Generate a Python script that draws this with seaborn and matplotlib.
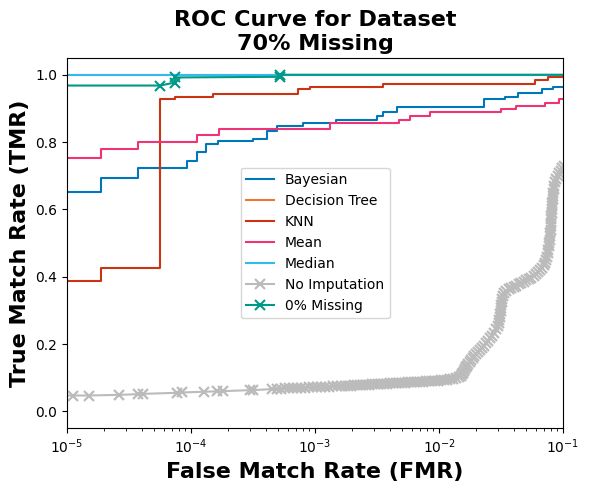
import matplotlib
matplotlib.use("Agg")
import matplotlib.pyplot as plt
import seaborn as sns
import pandas as pd

# Curvas ROC (FMR, TMR)
bayes_fmr = [0, 1.87e-5, 3.72e-5, 9.2e-5, 1.11e-4, 1.31e-4, 1.66e-4, 3.15e-4, 4.07e-4,
             4.94e-4, 7.96e-4, 1.48e-3, 3.15e-3, 3.56e-3, 4.56e-3, 2.32e-2, 3.41e-2,
             4.36e-2, 6.73e-2, 8.35e-2, 1.0]
bayes_tmr = [0.652, 0.693, 0.724, 0.743, 0.772, 0.794, 0.802, 0.810, 0.832,
             0.848, 0.858, 0.866, 0.878, 0.888, 0.904, 0.927, 0.935,
             0.945, 0.957, 0.965, 1.0]

tree_fmr = [0, 1.0]
tree_tmr = [1.0, 1.0]

knn_fmr = [0, 1.87e-5, 5.62e-5, 7.43e-5, 1.50e-4, 7.33e-4, 9.12e-4, 3.52e-3, 5.94e-2, 7.61e-2, 1.0]
knn_tmr = [0.388, 0.426, 0.928, 0.935, 0.944, 0.957, 0.965, 0.974, 0.984, 0.992, 1.0]

mean_fmr = [0, 1.87e-5, 3.72e-5, 1.11e-4, 1.67e-4, 1.32e-3, 4.78e-3, 5.84e-3, 8.46e-3,
            3.16e-2, 4.18e-2, 7.16e-2, 9.34e-2, 1.0]
mean_tmr = [0.754, 0.780, 0.801, 0.820, 0.840, 0.856, 0.866, 0.878, 0.888,
            0.898, 0.906, 0.915, 0.927, 1.0]

median_fmr = [0, 1.0]
median_tmr = [1.0, 1.0]

full_fmr = [0, 5.62e-5, 7.43e-5, 7.43e-5, 5.22e-4, 5.22e-4, 1.0]
full_tmr = [0.966, 0.968, 0.977, 0.992, 0.994, 1.0, 1.0]

noimp_fmr = [0, 1.12e-5, 1.51e-5, 2.62e-5, 3.76e-5, 4.12e-5, 7.67e-5, 8.41e-5, 1.26e-4,
             1.61e-4, 1.82e-4, 2.99e-4, 3.18e-4, 4.48e-4,
             4.94e-4, 5.32e-4, 5.73e-4, 6.17e-4, 6.65e-4, 7.16e-4, 7.71e-4, 8.31e-4,
             8.95e-4, 9.64e-4, 1.038e-3, 1.118e-3, 1.204e-3, 1.297e-3, 1.397e-3,
             1.505e-3, 1.621e-3, 1.746e-3,
             1.846e-3, 1.952e-3, 2.064e-3, 2.182e-3, 2.307e-3, 2.439e-3, 2.579e-3,
             2.727e-3, 2.883e-3, 3.048e-3, 3.223e-3, 3.408e-3, 3.603e-3, 3.809e-3,
             4.027e-3, 4.258e-3, 4.502e-3, 4.760e-3, 5.033e-3, 5.321e-3, 5.626e-3,
             5.948e-3, 6.289e-3, 6.649e-3, 7.030e-3, 7.433e-3, 7.859e-3, 8.309e-3,
             8.785e-3, 9.288e-3, 9.820e-3, 1.038e-2, 1.098e-2, 1.161e-2, 1.227e-2,
             1.297e-2, 1.372e-2, 1.450e-2,
             1.505e-2, 1.533e-2, 1.562e-2, 1.591e-2, 1.621e-2, 1.651e-2, 1.682e-2,
             1.714e-2, 1.762e-2, 1.812e-2, 1.863e-2, 1.916e-2, 1.989e-2, 2.064e-2,
             2.141e-2, 2.222e-2, 2.307e-2, 2.393e-2, 2.484e-2, 2.578e-2, 2.675e-2,
             2.776e-2, 2.882e-2, 2.963e-2, 3.019e-2, 3.059e-2, 3.087e-2, 3.110e-2,
             3.133e-2, 3.157e-2, 3.180e-2, 3.210e-2, 3.246e-2, 3.294e-2, 3.356e-2,
             3.470e-2, 3.635e-2, 3.807e-2, 3.988e-2, 4.178e-2, 4.376e-2, 4.585e-2,
             4.803e-2, 5.030e-2, 5.270e-2, 5.520e-2, 5.782e-2, 6.058e-2, 6.286e-2,
             6.523e-2, 6.769e-2, 6.960e-2, 7.158e-2,
             7.293e-2, 7.430e-2, 7.541e-2, 7.625e-2, 7.696e-2, 7.753e-2, 7.796e-2,
             7.840e-2, 7.884e-2, 7.928e-2, 7.957e-2, 8.001e-2, 8.031e-2, 8.061e-2,
             8.091e-2, 8.121e-2, 8.151e-2, 8.197e-2, 8.242e-2, 8.288e-2, 8.350e-2,
             8.428e-2, 8.522e-2, 8.650e-2, 8.813e-2, 9.027e-2, 9.283e-2, 9.545e-2,
             9.815e-2, 1.009e-1]
noimp_tmr = [0.045, 0.047, 0.047, 0.049, 0.051, 0.052, 0.055, 0.056, 0.058,
             0.059, 0.060, 0.063, 0.063, 0.066,
             0.067, 0.067, 0.068, 0.068, 0.069, 0.069, 0.070, 0.070,
             0.071, 0.071, 0.072, 0.072, 0.073, 0.073, 0.074,
             0.074, 0.075, 0.075,
             0.076, 0.076, 0.077, 0.077, 0.078, 0.078, 0.079,
             0.079, 0.080, 0.080, 0.081, 0.081, 0.082, 0.082,
             0.083, 0.083, 0.084, 0.084, 0.085, 0.085, 0.086,
             0.086, 0.087, 0.087, 0.088, 0.088, 0.089, 0.089,
             0.090, 0.090, 0.091, 0.092, 0.093, 0.094, 0.095,
             0.097, 0.099, 0.101,
             0.106, 0.110, 0.115, 0.120, 0.126, 0.131, 0.136,
             0.141, 0.146, 0.152, 0.157, 0.163, 0.169, 0.175,
             0.181, 0.188, 0.195, 0.202, 0.209, 0.217, 0.225,
             0.234, 0.244, 0.253, 0.262, 0.271, 0.280, 0.289,
             0.298, 0.307, 0.316, 0.325, 0.334, 0.343, 0.351,
             0.357, 0.363, 0.367, 0.370, 0.373, 0.377, 0.381,
             0.385, 0.389, 0.393, 0.397, 0.402, 0.408, 0.414,
             0.420, 0.427, 0.434, 0.441,
             0.450, 0.460, 0.470, 0.480, 0.490, 0.500, 0.510,
             0.520, 0.530, 0.540, 0.550, 0.560, 0.570, 0.580,
             0.590, 0.600, 0.610, 0.620, 0.630, 0.640, 0.650,
             0.660, 0.670, 0.680, 0.690, 0.699, 0.707, 0.715,
             0.722, 0.728]

# Paleta "vibrant" (Paul Tol)
colors = {
    "Bayesian": "#0077BB",
    "Decision Tree": "#EE7733",
    "KNN": "#CC3311",
    "Mean": "#EE3377",
    "Median": "#33BBEE",
    "No Imputation": "#BBBBBB",
    "0% Missing": "#009988",
}


def draw(ax, fmr, tmr, label, **kw):
    df = pd.DataFrame({"fmr": fmr, "tmr": tmr})
    sns.lineplot(data=df, x="fmr", y="tmr", ax=ax, label=label, color=colors[label],
                 estimator=None, sort=False, linewidth=1.5, **kw)


fig, ax = plt.subplots(figsize=(5.89, 4.91), dpi=100)
fig.subplots_adjust(left=0.114, right=0.956, top=0.882, bottom=0.128)

draw(ax, bayes_fmr, bayes_tmr, "Bayesian", drawstyle="steps-post")
draw(ax, tree_fmr, tree_tmr, "Decision Tree", drawstyle="steps-post")
draw(ax, knn_fmr, knn_tmr, "KNN", drawstyle="steps-post")
draw(ax, mean_fmr, mean_tmr, "Mean", drawstyle="steps-post")
draw(ax, median_fmr, median_tmr, "Median", drawstyle="steps-post")
draw(ax, noimp_fmr, noimp_tmr, "No Imputation", marker="x", markersize=7,
     markeredgewidth=1.6, markeredgecolor=colors["No Imputation"])
draw(ax, full_fmr, full_tmr, "0% Missing", marker="x", markersize=7,
     markeredgewidth=1.5, markeredgecolor=colors["0% Missing"])

ax.set_xscale("log", nonpositive="clip")
ax.set_xlim(1e-5, 1e-1)
ax.set_ylim(-0.05, 1.05)
ax.set_yticks([0.0, 0.2, 0.4, 0.6, 0.8, 1.0])

ax.set_xlabel("False Match Rate (FMR)", fontsize=16, fontweight="bold")
ax.set_ylabel("True Match Rate (TMR)", fontsize=16, fontweight="bold")
ax.set_title("ROC Curve for Dataset\n70% Missing", fontsize=16, fontweight="bold")
ax.legend(loc="center")

fig.savefig("out.png", dpi=100)
